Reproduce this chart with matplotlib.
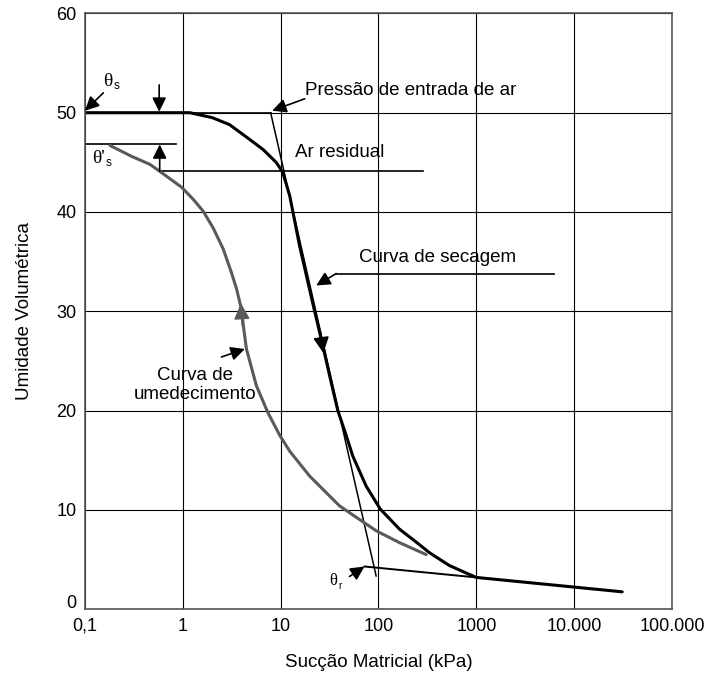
import matplotlib
matplotlib.use('Agg')
import matplotlib.pyplot as plt
from matplotlib.ticker import NullLocator
import matplotlib.transforms as mtransforms

plt.rcParams['font.family'] = ['Liberation Sans', 'DejaVu Sans']

# curva de secagem (drying curve)
drying_x = [0.1, 1.0, 1.18, 2.0, 3.0, 4.83, 6.6, 9.0, 10.5, 12.4, 15.6, 21.3, 27,
            32.9, 38.4, 45, 54.7, 74.8, 104, 164, 240, 331, 530, 850, 1000, 31000]
drying_y = [50, 50, 50, 49.5, 48.8, 47.3, 46.3, 45.0, 44.0, 41.6, 36.6, 30.8, 26.5,
            22.8, 20.0, 18.0, 15.4, 12.4, 10.1, 8.06, 6.8, 5.7, 4.4, 3.5, 3.2, 1.75]

# curva de umedecimento (wetting curve)
wetting_x = [0.18, 0.3, 0.46, 0.58, 0.97, 1.27, 1.61, 2.04, 2.58, 3.14, 3.53, 3.76,
             3.97, 4.2, 4.47, 5.65, 7.4, 9.8, 12.4, 19.8, 40, 94.6, 164, 307]
wetting_y = [46.7, 45.6, 44.8, 44.1, 42.5, 41.3, 40.1, 38.4, 36.3, 33.9, 32.3, 31.2,
             30.2, 28.2, 26.2, 22.5, 19.8, 17.5, 15.9, 13.4, 10.4, 7.9, 6.7, 5.5]

# reference lines
theta_s = 50
theta_s_wet = 46.8
residual_air = 44.1
tangent_x = [7.9, 94.6]
tangent_y = [50, 3.35]
theta_r_x = [72, 1000]
theta_r_y = [4.3, 3.2]

x_ticks = [0.1, 1, 10, 100, 1000, 10000, 100000]
x_labels = ['0,1', '1', '10', '100', '1000', '10.000', '100.000']
y_ticks = [0, 10, 20, 30, 40, 50, 60]

FS = 13.5
GREY = '#5a5a5a'

fig = plt.figure(figsize=(7.06, 6.73), dpi=100)
ax = fig.add_axes([0.1204, 0.0948, 0.8314, 0.8853])
ax.set_xscale('log')
ax.set_xlim(0.1, 1e5)
ax.set_ylim(0, 60)
ax.set_xticks(x_ticks)
ax.set_xticklabels(x_labels)
ax.xaxis.set_minor_locator(NullLocator())
ax.set_yticks(y_ticks)
ax.tick_params(length=0, labelsize=13, pad=6)
ax.grid(True, color='black', lw=0.8)
for s in ax.spines.values():
    s.set_color('#555555')
    s.set_linewidth(1.2)

# "0" label sits a bit above the axis in the original
lab0 = ax.get_yticklabels()[0]
lab0.set_transform(lab0.get_transform() +
                   mtransforms.ScaledTranslation(0, 8 / 100, fig.dpi_scale_trans))

ax.set_xlabel('Sucção Matricial (kPa)', fontsize=FS, labelpad=14)
ax.set_ylabel('Umidade Volumétrica', fontsize=FS, labelpad=17)

# horizontal helper lines
ax.plot([0.1, 7.9], [theta_s, theta_s], color='black', lw=1.2)
ax.plot([0.1, 0.85], [theta_s_wet, theta_s_wet], color='black', lw=1.2)
ax.plot([0.58, 283], [residual_air, residual_air], color='black', lw=1.2)
ax.plot(tangent_x, tangent_y, color='black', lw=1.1)
ax.plot(theta_r_x, theta_r_y, color='black', lw=1.4)

# curves
ax.plot(wetting_x, wetting_y, color=GREY, lw=2.2, solid_capstyle='round')
ax.plot(drying_x, drying_y, color='black', lw=2.2, solid_capstyle='round')


def arrow(tail, tip, color='black', lw=1.2, size=14):
    ax.annotate('', xy=tip, xytext=tail,
                arrowprops=dict(arrowstyle='-|>,head_length=0.6,head_width=0.3',
                                color=color, lw=lw, shrinkA=0, shrinkB=0,
                                mutation_scale=size))


def theta(x, y, sub, prime=False, fs=14):
    txt = "θ'" if prime else 'θ'
    ax.text(x, y, txt, family='Liberation Serif', fontsize=fs, va='center')
    dx = 0.72 * fs if prime else 0.52 * fs
    ax.annotate(sub, xy=(x, y), xytext=(dx, -3), textcoords='offset points',
                fontsize=fs * 0.6, va='center')


# arrowheads on the curves
arrow((25.4, 28.0), (27.3, 25.8), size=16)
arrow((4.05, 28.6), (3.93, 30.8), color=GREY, size=16)

# theta_s
theta(0.153, 53.1, 's')
arrow((0.154, 52.0), (0.1, 50.2))
arrow((0.573, 52.8), (0.573, 50.1))

# theta'_s
theta(0.117, 45.4, 's', prime=True)
arrow((0.58, 44.1), (0.58, 46.8))

# labels
ax.text(17.6, 52.2, 'Pressão de entrada de ar', fontsize=FS, va='center')
arrow((17.6, 51.4), (8.2, 50.2))
ax.text(13.9, 46.0, 'Ar residual', fontsize=FS, va='center')

ax.text(63, 35.4, 'Curva de secagem', fontsize=FS, va='center')
ax.plot([6250, 37], [33.8, 33.8], color='black', lw=1.2)
arrow((37, 33.8), (23.1, 32.6))

ax.text(1.32, 22.6, 'Curva de\numedecimento', fontsize=FS, ha='center',
        va='center', linespacing=1.15)
arrow((2.48, 25.4), (4.3, 26.2))

theta(31.6, 2.8, 'r', fs=12)
arrow((50.6, 3.3), (72, 4.3))

fig.savefig('out.png', dpi=100)
